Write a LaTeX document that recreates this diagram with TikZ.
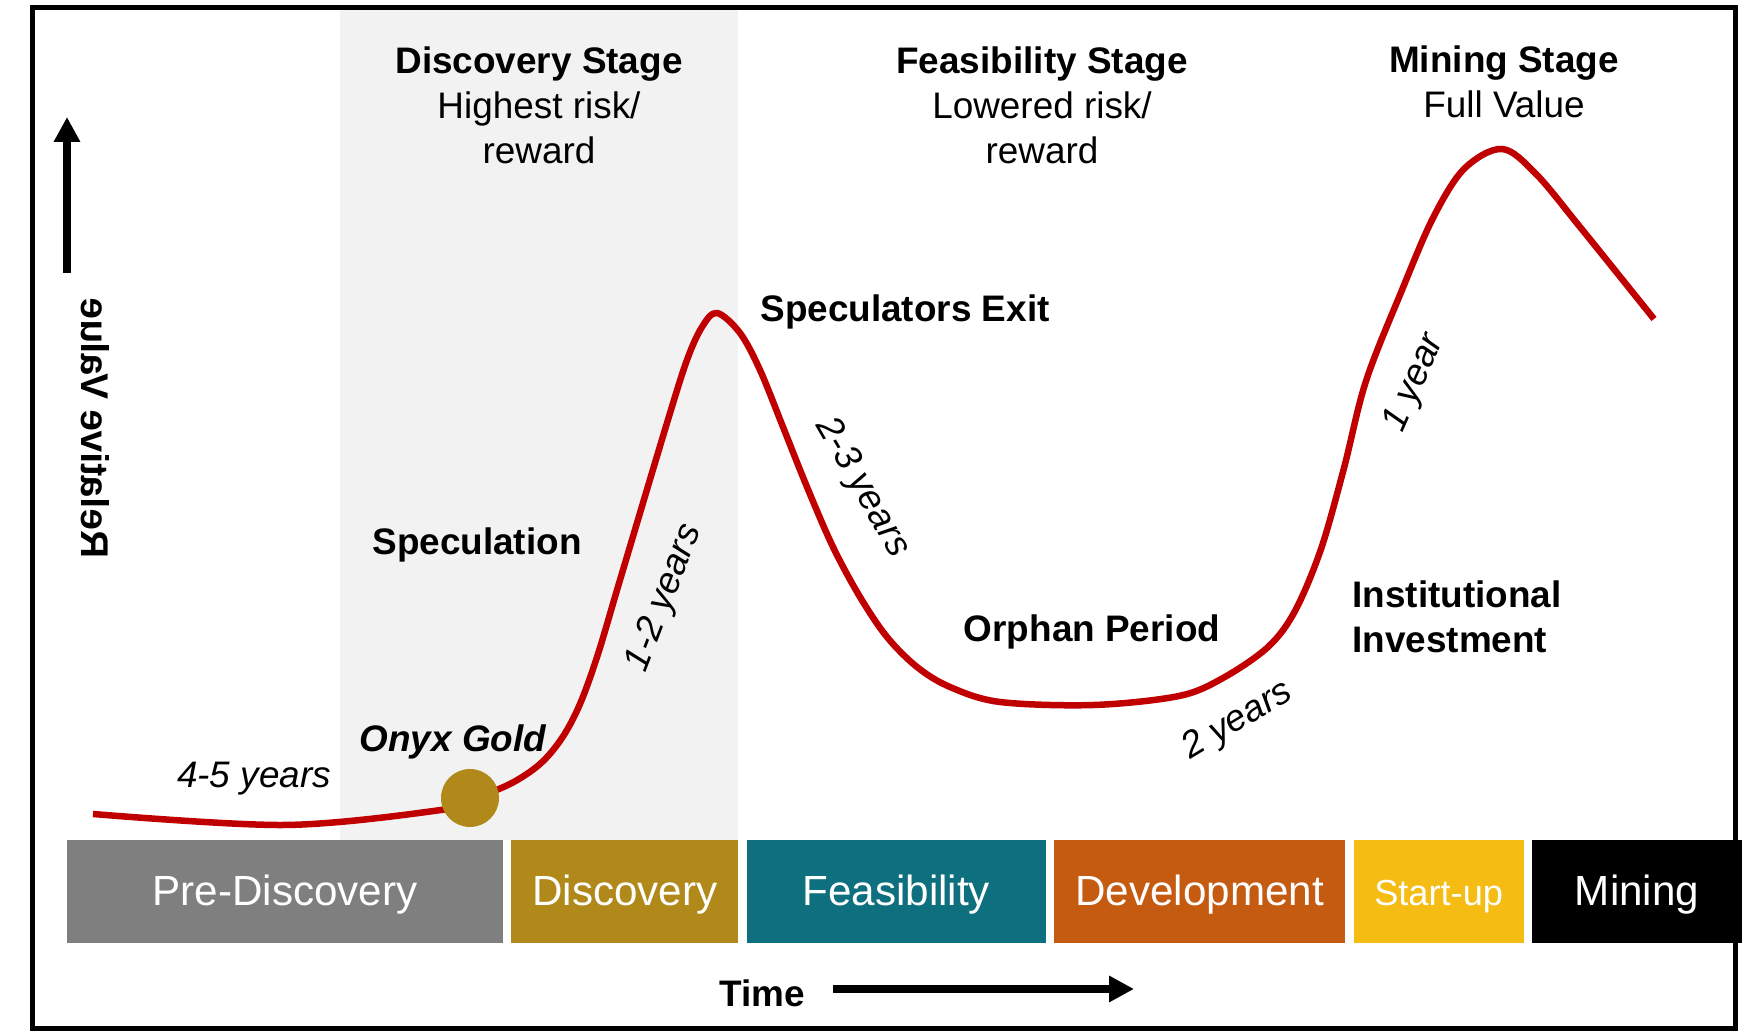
\documentclass[tikz,border=0pt]{standalone}
\usepackage{fontspec}
\setmainfont{Liberation Sans}
\usetikzlibrary{positioning, arrows.meta}

\definecolor{bandgray}{HTML}{F2F2F2}
\definecolor{predisc}{HTML}{7F7F7F}
\definecolor{discgold}{HTML}{B0891A}
\definecolor{feasteal}{HTML}{0E6F7E}
\definecolor{devorange}{HTML}{C55A11}
\definecolor{startyellow}{HTML}{F5BC13}
\definecolor{curvered}{HTML}{C00000}

\newcommand{\lblsize}{\fontsize{10.5}{12.8}\selectfont}
\newcommand{\boxsize}{\fontsize{12}{14}\selectfont}

\tikzset{
    stagebox/.style={rectangle, inner sep=0pt, minimum height=1.03cm, text=white, font=\boxsize,
                     text height=1.04em, text depth=0.24em},
    heading/.style={align=center, font=\lblsize},
    notelabel/.style={font=\lblsize\bfseries},
    yearlabel/.style={font=\lblsize\itshape},
    valuecurve/.style={draw=curvered, line width=0.065cm, line join=round},
    bigarrow/.style={line width=0.085cm, -{Triangle[length=0.25cm, width=0.25cm]}}
}

\begin{document}
\begin{tikzpicture}
    \useasboundingbox (0,0) rectangle (17.49,10.31);

    % shaded discovery column
    \fill[bandgray] (3.40,1.91) rectangle (7.38,10.23);

    % stage bar
    \node[stagebox, fill=predisc, minimum width=4.36cm] (prebox) at (2.85,1.395) {Pre-Discovery};
    \node[stagebox, fill=discgold, minimum width=2.27cm, right=0.07cm of prebox] (discbox) {Discovery};
    \node[stagebox, fill=feasteal, minimum width=2.99cm, right=0.07cm of discbox] (feasbox) {Feasibility};
    \node[stagebox, fill=devorange, minimum width=2.91cm, right=0.07cm of feasbox] (devbox) {Development};
    \node[stagebox, fill=startyellow, minimum width=1.70cm, right=0.07cm of devbox,
          font=\fontsize{10.3}{12}\selectfont] (startbox) {Start-up};
    \node[stagebox, fill=black, minimum width=2.10cm, right=0.07cm of startbox] (minebox) {Mining};

    % value curve
    \draw[valuecurve] plot[smooth, tension=0.55] coordinates {
        (0.93,2.17) (2.85,2.06) (4.41,2.21) (4.70,2.31) (5.10,2.47) (5.40,2.67)
        (5.62,2.93) (5.80,3.27) (5.98,3.77) (6.20,4.51) (6.67,6.08) (6.87,6.71)
        (7.02,7.04) (7.17,7.18) (7.40,6.98) (7.60,6.61) (7.83,6.04) (8.07,5.44)
        (8.33,4.84) (8.60,4.34) (8.87,3.94) (9.17,3.64) (9.50,3.44) (10.00,3.29)
        (10.94,3.26) (11.79,3.35) (12.23,3.53) (12.68,3.84) (12.95,4.20) (13.21,4.82)
        (13.44,5.63) (13.66,6.50) (14.02,7.41) (14.33,8.13) (14.64,8.62) (15.02,8.82)
        (15.36,8.57) (15.80,8.04) (16.54,7.12)};
    \node[circle, fill=discgold, minimum size=0.58cm, inner sep=0pt] (onyxdot) at (4.70,2.33) {};

    % stage headings
    \node[heading] (discstage) at (5.39,9.26) {\textbf{Discovery Stage}\\Highest risk/\\reward};
    \node[heading] (feasstage) at (10.42,9.26) {\textbf{Feasibility Stage}\\Lowered risk/\\reward};
    \node[heading] (minestage) at (15.04,9.49) {\textbf{Mining Stage}\\Full Value};

    % notes along the curve
    \node[notelabel] (exit) at (9.05,7.19) {Speculators Exit};
    \node[notelabel] (spec) at (4.77,4.86) {Speculation};
    \node[notelabel] (orphan) at (10.92,3.99) {Orphan Period};
    \node[notelabel, align=left, anchor=west] (inst) at (13.40,4.14) {Institutional\\Investment};
    \node[notelabel, font=\lblsize\bfseries\itshape] (onyx) at (4.53,2.89) {Onyx Gold};

    \node[yearlabel] (prey) at (2.54,2.52) {4-5 years};
    \node[yearlabel, rotate=69] (discy) at (6.65,4.33) {1-2 years};
    \node[yearlabel, rotate=-60] (feasy) at (8.62,5.43) {2-3 years};
    \node[yearlabel, rotate=31] (devy) at (12.38,3.10) {2 years};
    \node[yearlabel, rotate=66] (starty) at (14.15,6.48) {1 year};

    % axes
    \node[font=\fontsize{11}{13}\selectfont\bfseries, cm={0,1,1,0,(0,0)}] (relval) at (0.95,6.03) {Relative Value};
    \coordinate (ybase) at (0.67,7.58);
    \coordinate (ytip) at (0.67,9.14);
    \draw[bigarrow] (ybase) -- (ytip);

    \node[notelabel] (time) at (7.62,0.38) {Time};
    \coordinate (tbase) at (8.33,0.42);
    \coordinate (ttip) at (11.34,0.42);
    \draw[bigarrow] (tbase) -- (ttip);

    % frame
    \draw[line width=0.05cm] (0.32,0.025) rectangle (17.35,10.23);
\end{tikzpicture}
\end{document}
